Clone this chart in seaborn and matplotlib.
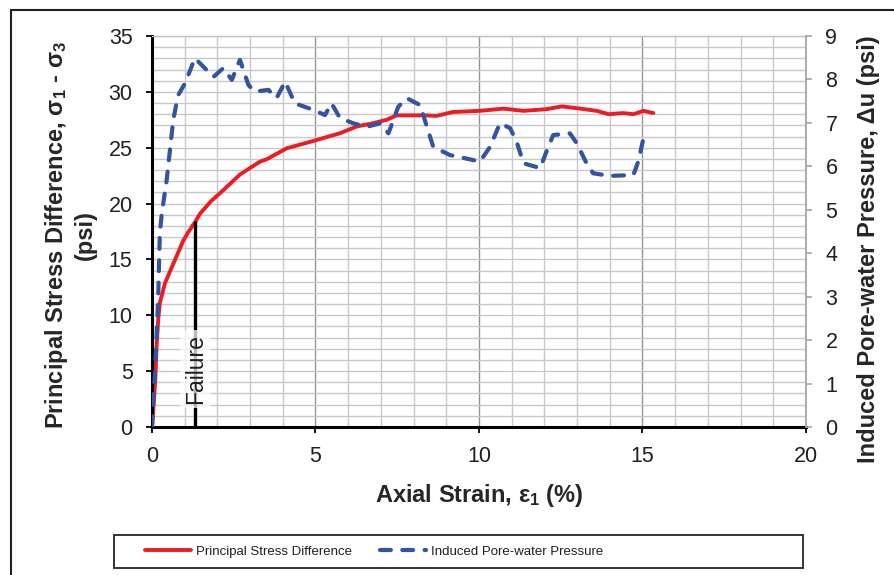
import numpy as np
import pandas as pd
import seaborn as sns
import matplotlib.pyplot as plt
from matplotlib.patches import Rectangle
from matplotlib.ticker import MultipleLocator

# Triaxial test record: principal stress difference vs axial strain
strain_stress = [0, 0.05, 0.10, 0.14, 0.19, 0.24, 0.40, 0.65, 0.96, 1.10, 1.33, 1.47,
                 1.80, 2.18, 2.69, 3.30, 3.51, 4.12, 4.93, 5.75, 6.26, 6.77, 7.18,
                 7.48, 8.30, 8.70, 9.21, 10.03, 10.74, 11.36, 12.07, 12.53, 13.09,
                 13.60, 13.96, 14.41, 14.72, 15.03, 15.33]
stress_diff = [0, 2.0, 4.2, 7.2, 9.6, 11.1, 12.9, 14.6, 16.7, 17.4, 18.4, 19.1,
               20.2, 21.2, 22.6, 23.75, 23.97, 24.95, 25.6, 26.3, 26.9, 27.2, 27.5,
               27.9, 27.9, 27.85, 28.2, 28.3, 28.5, 28.3, 28.45, 28.7, 28.5,
               28.3, 28.0, 28.1, 28.0, 28.3, 28.1]

# Induced pore-water pressure vs axial strain
strain_pore = [0, 0.09, 0.19, 0.24, 0.30, 0.45, 0.65, 0.80, 1.01, 1.31, 1.88, 2.18,
               2.44, 2.69, 2.95, 3.15, 3.56, 3.81, 4.07, 4.37, 4.93, 5.29, 5.49,
               5.75, 6.16, 6.57, 6.97, 7.23, 7.53, 7.79, 8.20, 8.60, 9.11, 10.03,
               10.34, 10.64, 10.95, 11.15, 11.36, 11.87, 12.12, 12.27, 12.78, 12.99,
               13.29, 13.49, 14.00, 14.72, 14.87, 15.03, 15.18]
pore_pressure = [0, 1.24, 3.0, 4.46, 4.92, 5.69, 7.07, 7.64, 7.91, 8.49, 8.06, 8.26,
                 7.99, 8.45, 7.87, 7.72, 7.76, 7.57, 7.95, 7.45, 7.30, 7.18, 7.45,
                 7.11, 6.99, 6.91, 6.99, 6.76, 7.37, 7.57, 7.41, 6.45, 6.26, 6.11,
                 6.45, 6.99, 6.88, 6.57, 6.07, 5.96, 6.45, 6.72, 6.76, 6.53,
                 6.07, 5.84, 5.78, 5.80, 6.11, 6.65, 6.72]

failure_strain = 1.33
failure_stress = 18.4

x_ticks = [0, 5, 10, 15, 20]
left_ticks = [0, 5, 10, 15, 20, 25, 30, 35]
right_ticks = [0, 1, 2, 3, 4, 5, 6, 7, 8, 9]

series_labels = ["Principal Stress Difference", "Induced Pore-water Pressure"]

RED = "#ed1c24"
BLUE = "#3353a3"
INK = "#231f20"

sns.set_theme(style="white")
plt.rcParams["font.family"] = ["Liberation Sans", "DejaVu Sans"]
plt.rcParams["mathtext.default"] = "regular"
plt.rcParams["lines.dash_capstyle"] = "round"
plt.rcParams["lines.solid_capstyle"] = "round"
plt.rcParams["text.color"] = INK

fig = plt.figure(figsize=(8.95, 5.75), dpi=100)
ax = fig.add_axes([152 / 895, 1 - 427 / 575, 654 / 895, 391 / 575])

stress_df = pd.DataFrame({"strain": strain_stress, "stress": stress_diff})
pore_df = pd.DataFrame({"strain": strain_pore, "pore": pore_pressure})

# Grid
ax.set_axisbelow(True)
ax.xaxis.set_minor_locator(MultipleLocator(1))
ax.yaxis.set_minor_locator(MultipleLocator(1))
ax.grid(which="minor", color="#c8c8c8", lw=1.0)
ax.grid(which="major", axis="y", color="#c8c8c8", lw=1.0)
ax.grid(which="major", axis="x", color="#959595", lw=1.0)

sns.lineplot(data=stress_df, x="strain", y="stress", ax=ax, color=RED, lw=2.8,
             sort=False, estimator=None, legend=False)
stress_line = ax.lines[-1]

# Failure marker
ax.plot([failure_strain, failure_strain], [0, failure_stress], color="black",
        lw=2.4, solid_capstyle="butt", zorder=2.5)
ax.text(failure_strain, 5.2, "Failure", rotation=90, ha="center", va="center",
        fontsize=16.5, color=INK, zorder=3,
        bbox=dict(boxstyle="square,pad=0.18", fc="white", ec="none", alpha=0.72))

ax.set_xlim(0, 20)
ax.set_ylim(0, 35)
ax.set_xticks(x_ticks)
ax.set_yticks(left_ticks)
ax.tick_params(which="major", bottom=True, left=True, direction="out", length=4,
               width=1.3, color="black", labelsize=15.5, labelcolor=INK, pad=10)
ax.tick_params(which="minor", length=0)

for side in ("left", "bottom"):
    ax.spines[side].set_color("black")
    ax.spines[side].set_linewidth(2.2)
ax.spines["top"].set_color("#c0c0c0")
ax.spines["top"].set_linewidth(1.0)
ax.spines["right"].set_visible(False)

ax.set_xlabel("Axial Strain, ε$_1$ (%)", fontsize=17, fontweight="bold")
ax.set_ylabel("Principal Stress Difference, σ$_1$ - σ$_3$\n(psi)", fontsize=17,
              fontweight="bold")
ax.xaxis.set_label_coords(0.5, -0.14)
ax.yaxis.set_label_coords(-0.084, 0.49)

# Pore pressure on secondary axis
ax2 = ax.twinx()
sns.lineplot(data=pore_df, x="strain", y="pore", ax=ax2, color=BLUE, lw=3.0,
             sort=False, estimator=None, legend=False)
pore_line = ax2.lines[-1]
pore_line.set_dashes((2.6, 2.75))
pore_line.set_dash_capstyle("round")

ax2.set_ylim(0, 9)
ax2.set_yticks(right_ticks)
ax2.tick_params(axis="y", right=True, direction="out", length=4, width=1.2,
                color="#a6a6a6", labelsize=15.5, labelcolor=INK, pad=10)
for side in ("left", "bottom", "top"):
    ax2.spines[side].set_visible(False)
ax2.spines["right"].set_color("#a6a6a6")
ax2.spines["right"].set_linewidth(1.3)
ax2.set_ylabel("Induced Pore-water Pressure, Δu (psi)", fontsize=17,
               fontweight="bold")
ax2.yaxis.set_label_coords(1.078, 0.455)

# Legend below the plot
fig.add_artist(Rectangle((114 / 895, 1 - 568 / 575), 689 / 895, 33 / 575,
                         transform=fig.transFigure, fill=False, ec="#333333", lw=1.4))
fig.legend([stress_line, pore_line], series_labels, loc="center left",
           bbox_to_anchor=(145 / 895, 1 - 551.5 / 575), frameon=False, ncol=2,
           borderpad=0, borderaxespad=0, handlelength=3.5, handletextpad=0.38,
           columnspacing=2.1, prop={"size": 9.5})

# Outer frame
fig.add_artist(Rectangle((11 / 895, -0.1), 1.2, (1 - 10 / 575) + 0.1,
                         transform=fig.transFigure, fill=False, ec=INK, lw=1.5))

fig.savefig("out.png", dpi=100)
